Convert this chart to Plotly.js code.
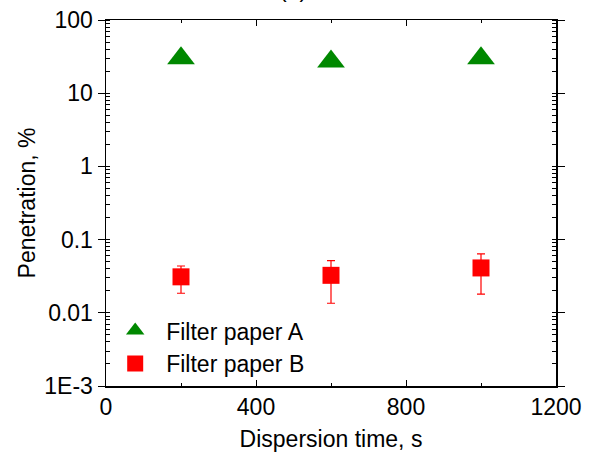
<!DOCTYPE html>
<html>
<head>
<meta charset="utf-8">
<script src="https://cdn.plot.ly/plotly-3.0.1.min.js"></script>
<style>html,body{margin:0;padding:0;background:#fff;}#chart{width:592px;height:461px;}</style>
</head>
<body>
<div id="chart"></div>
<script>
// Data
const timeA = [200, 600, 1000];
const penA = [30, 27, 30];
const timeB = [200, 600, 1000];
const penB = [0.031, 0.0325, 0.041];
const errBPlus = [0.0126, 0.019, 0.023];
const errBMinus = [0.0125, 0.019, 0.023];
const yTickVals = [0.001, 0.01, 0.1, 1, 10, 100];
const yTickText = ['1E-3', '0.01', '0.1', '1', '10', '100'];
const xTickVals = [0, 400, 800, 1200];

const font = {family: 'Liberation Sans, Arial, sans-serif', size: 23, color: '#000'};

const traces = [
  {
    x: timeA, y: penA, type: 'scatter', mode: 'markers', name: 'Filter paper A',
    marker: {symbol: 'triangle-up', size: 24, color: '#008800', line: {width: 0}}
  },
  {
    x: timeB, y: penB, type: 'scatter', mode: 'markers', name: 'Filter paper B',
    marker: {symbol: 'square', size: 17, color: '#ff0000', line: {width: 0}},
    error_y: {type: 'data', symmetric: false, array: errBPlus, arrayminus: errBMinus,
              color: '#ff0000', thickness: 1.2, width: 4}
  }
];

const layout = {
  width: 592, height: 461,
  margin: {l: 106, r: 36, t: 20, b: 75},
  paper_bgcolor: '#fff', plot_bgcolor: '#fff',
  font: font,
  showlegend: true,
  legend: {x: -0.004, y: 0.21, xanchor: 'left', yanchor: 'top', bgcolor: 'rgba(0,0,0,0)',
           font: font, tracegroupgap: 0, itemsizing: 'trace', itemwidth: 52},
  xaxis: {
    range: [0, 1200], tickvals: xTickVals, ticks: 'inside', ticklen: 6, tickwidth: 1,
    tickcolor: '#000', showline: true, linecolor: '#000', linewidth: 1.5, mirror: 'ticks',
    showgrid: false, zeroline: false, tickfont: font,
    minor: {dtick: 200, tick0: 0, ticks: 'inside', ticklen: 3, tickcolor: '#000', showgrid: false},
    title: {text: 'Dispersion time, s', font: font, standoff: 12}
  },
  yaxis: {
    type: 'log', range: [-3, 2], tickvals: yTickVals, ticktext: yTickText,
    ticks: 'outside', ticklen: 7, tickwidth: 1, tickcolor: '#000',
    showline: true, linecolor: '#000', linewidth: 1.5, mirror: 'ticks',
    showgrid: false, zeroline: false, tickfont: font,
    minor: {dtick: 'D1', ticks: 'inside', ticklen: 4, tickcolor: '#000', showgrid: false},
    title: {text: 'Penetration, %', font: font, standoff: 2}
  },
  annotations: [
    {text: '(a)', xref: 'paper', yref: 'paper', x: 0.415, y: 1.044, xanchor: 'center',
     yanchor: 'bottom', showarrow: false, font: font}
  ]
};

Plotly.newPlot('chart', traces, layout, {displayModeBar: false, staticPlot: true});
</script>
</body>
</html>
